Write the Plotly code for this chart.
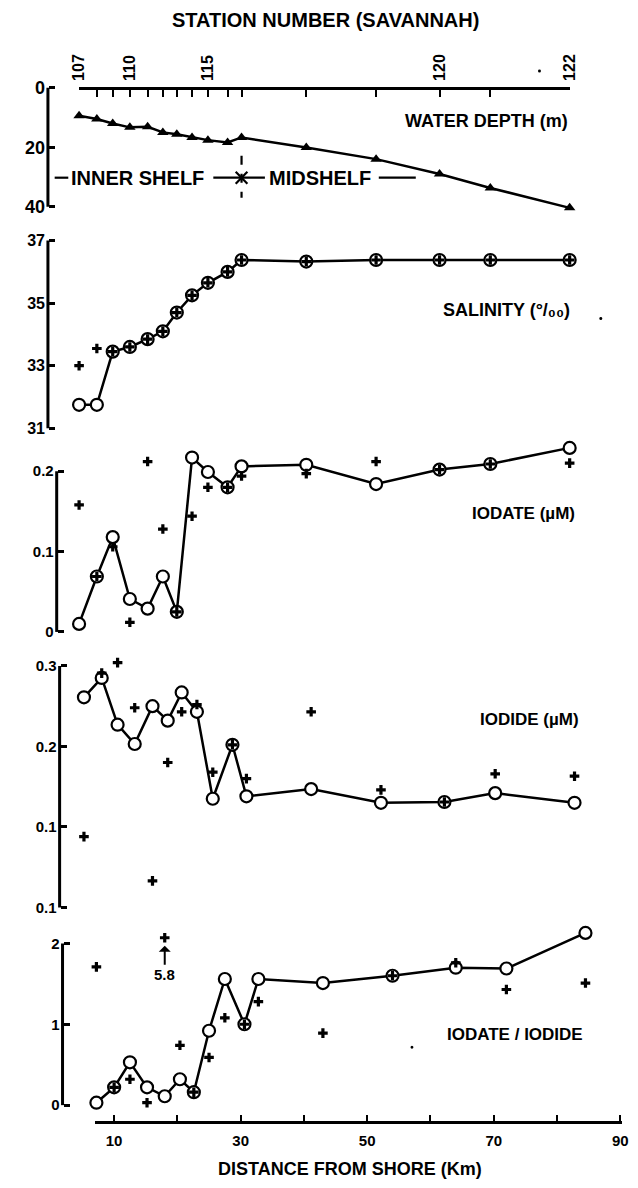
import plotly.graph_objects as go

W, H = 638, 1188
FONT = "Liberation Sans, Arial, Helvetica, sans-serif"

# ---- data -----------------------------------------------------------------
station_numbers = list(range(107, 123))
station_ticktext = ["107", "", "", "110", "", "", "", "", "115", "", "", "", "", "120", "", "122"]
distance_km = [7.2, 10.0, 12.5, 15.2, 18.0, 20.4, 22.6, 25.0, 27.5, 30.6, 32.8, 43.0, 54.0, 64.0, 72.0, 84.5]

water_depth_m = [9.4, 10.5, 12.0, 13.3, 13.1, 15.0, 15.6, 16.7, 17.6, 18.4, 16.7, 20.1, 24.0, 29.0, 33.7, 40.4]

salinity_circle = [31.75, 31.75, 33.45, 33.6, 33.85, 34.1, 34.7, 35.25, 35.65, 36.0, 36.38, 36.33, 36.38, 36.38, 36.38, 36.38]
salinity_cross = [33.0, 33.55, 33.45, 33.6, 33.85, 34.1, 34.7, 35.25, 35.65, 36.0, 36.38, 36.33, 36.38, 36.38, 36.38, 36.38]

iodate_circle = [0.010, 0.069, 0.118, 0.041, 0.029, 0.069, 0.025, 0.217, 0.199, 0.180, 0.206, 0.208, 0.184, 0.202, 0.209, 0.229]
iodate_cross = [0.158, 0.069, 0.106, 0.012, 0.212, 0.128, 0.025, 0.144, 0.180, 0.180, 0.194, 0.197, 0.212, 0.202, 0.209, 0.210]

iodide_circle = [0.261, 0.285, 0.227, 0.203, 0.250, 0.232, 0.267, 0.243, 0.135, 0.202, 0.138, 0.147, 0.130, 0.131, 0.142, 0.130]
iodide_cross = [0.088, 0.291, 0.304, 0.248, 0.033, 0.180, 0.243, 0.252, 0.168, 0.202, 0.160, 0.243, 0.146, 0.131, 0.166, 0.163]

ratio_circle = [0.03, 0.22, 0.53, 0.22, 0.11, 0.32, 0.16, 0.92, 1.56, 1.00, 1.56, 1.51, 1.60, 1.70, 1.69, 2.13]
ratio_cross = [1.71, 0.22, 0.32, 0.03, 5.8, 0.74, 0.16, 0.59, 1.08, 1.00, 1.28, 0.89, 1.60, 1.76, 1.43, 1.51]
ratio_plot_ceiling = 2.07   # values above this are drawn at the top with an arrow

depth_ticks, depth_ticktext = [0, 20, 40], ["0", "20", "40"]
salinity_ticks, salinity_ticktext = [31, 33, 35, 37], ["31", "33", "35", "37"]
iodate_ticks, iodate_ticktext = [0, 0.1, 0.2], ["0", "0.1", "0.2"]
iodide_ticks, iodide_ticktext = [0, 0.1, 0.2, 0.3], ["0.1", "0.1", "0.2", "0.3"]
ratio_ticks, ratio_ticktext = [0, 1, 2], ["0", "1", "2"]
km_ticks = [10, 20, 30, 40, 50, 60, 70, 80, 90]
km_ticktext = ["10", "", "30", "", "50", "", "70", "", "90"]

shelf_boundary_station = 117
shelf_label_depth_m = 30.25


# ---- pixel helpers (margins are zero, so paper == page pixels) -------------
def fx(p):
    return p / W


def fy(p):
    return 1 - p / H


def y_range(v_a, p_a, v_b, p_b, p_top, p_bot):
    per_px = (v_b - v_a) / (p_b - p_a)
    return [v_a + (p_bot - p_a) * per_px, v_a + (p_top - p_a) * per_px]


km0, km1 = distance_km[0], distance_km[-1]
TOP_X0, TOP_X1 = 72, 576
k_top = (TOP_X1 - TOP_X0) / (km1 - km0)


def x_range(d0, d1, origin_px, origin_km, k):
    return [origin_km + (d0 - origin_px) / k, origin_km + (d1 - origin_px) / k]


BLACK = "black"
LW = 2.5

fig = go.Figure()


def add_panel(n, y_circle, y_cross=None):
    xa = "x" if n == 1 else f"x{n}"
    ya = "y" if n == 1 else f"y{n}"
    fig.add_trace(go.Scatter(
        x=distance_km, y=y_circle, xaxis=xa, yaxis=ya, mode="lines+markers",
        line=dict(color=BLACK, width=LW), cliponaxis=False,
        marker=dict(symbol="circle", size=12, color="white", line=dict(color=BLACK, width=2.2)),
        showlegend=False, hoverinfo="skip"))
    if y_cross is not None:
        fig.add_trace(go.Scatter(
            x=distance_km, y=y_cross, xaxis=xa, yaxis=ya, mode="markers", cliponaxis=False,
            marker=dict(symbol="cross", size=8, color=BLACK, line=dict(width=0)),
            showlegend=False, hoverinfo="skip"))


# depth panel
fig.add_trace(go.Scatter(
    x=distance_km, y=water_depth_m, mode="lines+markers", cliponaxis=False,
    line=dict(color=BLACK, width=LW),
    marker=dict(symbol="triangle-up", size=10, color=BLACK),
    showlegend=False, hoverinfo="skip"))

add_panel(2, salinity_circle, salinity_cross)
add_panel(3, iodate_circle, iodate_cross)
add_panel(4, iodide_circle, iodide_cross)

ratio_cross_drawn = [min(v, ratio_plot_ceiling) for v in ratio_cross]
add_panel(5, ratio_circle, ratio_cross_drawn)


def tickfont(s):
    return dict(family=FONT, size=s, color=BLACK, weight="bold")


# panel geometry: (value, pixel) anchors, domain pixels, axis x pixel
DEPTH_A, DEPTH_B = (0, 87), (40, 206)
panels = {
    1: dict(a=DEPTH_A, b=DEPTH_B, dom=(78, 218), axis_px=40, ticks=(depth_ticks, depth_ticktext), fs=18),
    2: dict(a=(37, 240), b=(31, 428), dom=(225, 440), axis_px=40, ticks=(salinity_ticks, salinity_ticktext), fs=16),
    3: dict(a=(0.2, 471), b=(0, 632), dom=(440, 650), axis_px=49, ticks=(iodate_ticks, iodate_ticktext), fs=15),
    4: dict(a=(0.3, 666), b=(0, 908), dom=(650, 915), axis_px=52, ticks=(iodide_ticks, iodide_ticktext), fs=15),
    5: dict(a=(2, 944), b=(0, 1106), dom=(925, 1122), axis_px=55, ticks=(ratio_ticks, ratio_ticktext), fs=15),
}

layout = dict(
    width=W, height=H, margin=dict(l=0, r=0, t=0, b=0),
    paper_bgcolor="white", plot_bgcolor="rgba(0,0,0,0)", showlegend=False,
    font=dict(family=FONT, color=BLACK),
)

shapes = []
for n, p in panels.items():
    key = "yaxis" if n == 1 else f"yaxis{n}"
    rng = y_range(p["a"][0], p["a"][1], p["b"][0], p["b"][1], p["dom"][0], p["dom"][1])
    tv, tt = p["ticks"]
    layout[key] = dict(
        domain=[fy(p["dom"][1]), fy(p["dom"][0])], range=rng,
        anchor="free", position=fx(p["axis_px"]),
        showline=False, showgrid=False, zeroline=False,
        ticks="inside", ticklen=6, tickwidth=2.5, tickcolor=BLACK,
        tickvals=tv, ticktext=tt, tickfont=tickfont(p["fs"]), ticklabelstandoff=3,
    )
    yref = "y" if n == 1 else f"y{n}"
    shapes.append(dict(type="line", xref="paper", yref=yref,
                       x0=fx(p["axis_px"]), x1=fx(p["axis_px"]),
                       y0=min(tv), y1=max(tv), line=dict(color=BLACK, width=3)))

# station axis across the top of the depth panel
layout["xaxis"] = dict(
    domain=[fx(TOP_X0), fx(TOP_X1)], range=[km0, km1], anchor="free", position=fy(87), side="top",
    showline=True, linewidth=2.5, linecolor=BLACK, showgrid=False, zeroline=False,
    ticks="inside", ticklen=7, tickwidth=2, tickcolor=BLACK,
    tickvals=distance_km, ticktext=station_ticktext, tickangle=-90,
    tickfont=tickfont(16), ticklabelstandoff=3,
)
for n, (d0, d1) in {2: (TOP_X0, TOP_X1), 3: (TOP_X0, TOP_X1), 4: (77, 581)}.items():
    layout[f"xaxis{n}"] = dict(domain=[fx(d0), fx(d1)],
                               range=x_range(d0, d1, d0, km0, k_top),
                               anchor=f"y{n}", visible=False)

# distance axis along the bottom
x5 = x_range(88, 630, 108, 10, 6.5)
layout["xaxis5"] = dict(
    domain=[fx(88), fx(630)], range=x5, anchor="y5", side="bottom",
    showline=True, linewidth=2.5, linecolor=BLACK, showgrid=False, zeroline=False,
    ticks="inside", ticklen=6, tickwidth=2, tickcolor=BLACK,
    tickvals=[x5[0]] + km_ticks, ticktext=[""] + km_ticktext,
    tickfont=tickfont(15), ticklabelstandoff=4,
)

# inner shelf / midshelf divider, placed at the boundary station (page pixels)
star_km = distance_km[station_numbers.index(shelf_boundary_station)]
star_px = TOP_X0 + (star_km - km0) * k_top
star_py = DEPTH_A[1] + (shelf_label_depth_m - DEPTH_A[0]) * (DEPTH_B[1] - DEPTH_A[1]) / (DEPTH_B[0] - DEPTH_A[0])


def seg(dx0, dy0, dx1, dy1, dash="solid"):
    return dict(type="line", xref="paper", yref="paper",
                x0=fx(star_px + dx0), x1=fx(star_px + dx1),
                y0=fy(star_py + dy0), y1=fy(star_py + dy1),
                line=dict(color=BLACK, width=2.2, dash=dash))


shapes += [
    seg(-29, 0, 24, 0), seg(-6, -6, 6, 6), seg(-6, 6, 6, -6),
    seg(0, -22, 0, 20, "dash"),
    seg(-192, 0, -178, 0), seg(141, 0, 179, 0),
]

# stray specks
for (sx, sy) in [(545, 70), (608, 318), (414, 1048)]:
    shapes.append(dict(type="circle", xref="paper", yref="paper",
                       x0=fx(sx - 1.5), x1=fx(sx + 1.5), y0=fy(sy + 1.5), y1=fy(sy - 1.5),
                       fillcolor=BLACK, line=dict(width=0)))

layout["shapes"] = shapes


def label(text, x_px, y_px, size, anchor="right"):
    return dict(text=text, xref="paper", yref="paper", x=fx(x_px), y=fy(y_px),
                xanchor=anchor, yanchor="middle", showarrow=False,
                font=dict(family=FONT, size=size, color=BLACK, weight="bold"))


layout["annotations"] = [
    label("STATION NUMBER (SAVANNAH)", 325, 19, 20, "center"),
    label("WATER DEPTH (m)", 576, 120, 18),
    label("SALINITY (°/₀₀)", 578, 310, 18),
    label("IODATE (µM)", 584, 513, 17),
    label("IODIDE (µM)", 588, 720, 17),
    label("IODATE / IODIDE", 592, 1035, 17),
    label("DISTANCE FROM SHORE (Km)", 350, 1170, 18, "center"),
    label("INNER SHELF", star_px - 37, star_py, 20, "right"),
    label("MIDSHELF", star_px + 26, star_py, 20, "left"),
    dict(text=f"{ratio_cross[4]}", xref="x5", yref="y5", x=distance_km[4], y=ratio_cross_drawn[4],
         showarrow=True, ax=0, ay=37, arrowhead=1, arrowsize=1, arrowwidth=2, arrowcolor=BLACK,
         standoff=8, font=dict(family=FONT, size=15, color=BLACK, weight="bold")),
]

fig.update_layout(**layout)
fig.write_html("out.html")
